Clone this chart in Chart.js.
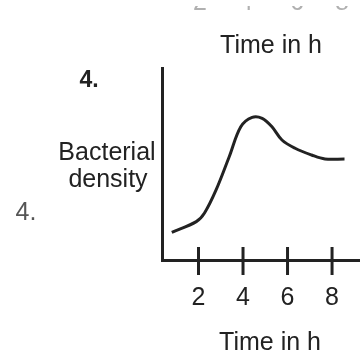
<!DOCTYPE html>
<html>
<head>
<meta charset="utf-8">
<script src="https://cdn.jsdelivr.net/npm/chart.js@4/dist/chart.umd.min.js"></script>
<style>
  html, body { margin: 0; padding: 0; background: #fff; }
</style>
</head>
<body>
<canvas id="growthChart" width="362" height="356"></canvas>
<script>
// growth curve, time (h) vs bacterial density (arbitrary units)
const hours = [0.8, 1.9, 2.27, 2.79, 3.38, 3.9, 4.41, 4.86, 5.3, 5.75, 6.34, 7.08, 7.68, 8.56];
const density = [1.44, 2.0, 2.45, 3.65, 5.38, 6.94, 7.43, 7.38, 6.94, 6.25, 5.82, 5.47, 5.26, 5.26];
const xTicks = [2, 4, 6, 8];
const xTitle = 'Time in h';
const yTitle = ['Bacterial', 'density'];
const itemNo = '4.';

const ink = '#222';
const family = '"Liberation Sans", Arial, sans-serif';

// labels, tick crosses and the leftover strip at the very top
const decorations = {
    id: 'decorations',
    afterDraw(chart) {
        const ctx = chart.ctx;
        const x = chart.scales.x;
        const axisY = chart.chartArea.bottom;
        ctx.save();

        // tick marks cross the axis
        ctx.strokeStyle = ink;
        ctx.lineWidth = 3;
        xTicks.forEach(v => {
            const px = x.getPixelForValue(v);
            ctx.beginPath();
            ctx.moveTo(px, axisY - 13);
            ctx.lineTo(px, axisY + 15);
            ctx.stroke();
        });

        ctx.fillStyle = ink;
        ctx.textAlign = 'center';
        ctx.textBaseline = 'alphabetic';
        ctx.font = '25px ' + family;
        ctx.fillText(xTitle, 271, 53);
        ctx.fillText(xTitle, 270, 350);
        ctx.fillText(yTitle[0], 107, 160);
        ctx.fillText(yTitle[1], 108, 187);

        ctx.font = 'bold 23px ' + family;
        ctx.fillText(itemNo, 89, 87);
        ctx.fillStyle = '#555';
        ctx.font = '25px ' + family;
        ctx.fillText(itemNo, 26, 220);

        // bottoms of the previous row of numbers
        ctx.beginPath();
        ctx.rect(0, 6, 362, 4);
        ctx.clip();
        ctx.fillStyle = '#b0b0b0';
        const offsets = [200, 246, 297, 342];
        xTicks.forEach((v, i) => ctx.fillText(String(v), offsets[i], 9.5));

        ctx.restore();
    }
};

new Chart(document.getElementById('growthChart'), {
    type: 'line',
    data: {
        datasets: [{
            data: hours.map((h, i) => ({ x: h, y: density[i] })),
            borderColor: ink,
            borderWidth: 3,
            pointRadius: 0,
            tension: 0.35,
            fill: false
        }]
    },
    options: {
        responsive: false,
        animation: false,
        layout: { padding: { left: 162, top: 68, right: 0, bottom: 20 } },
        plugins: {
            legend: { display: false },
            tooltip: { enabled: false }
        },
        scales: {
            x: {
                type: 'linear',
                min: 0.36,
                max: 9.24,
                afterBuildTicks: axis => { axis.ticks = xTicks.map(v => ({ value: v })); },
                grid: { display: false, drawTicks: false },
                border: { display: true, width: 3, color: ink },
                ticks: {
                    color: ink,
                    font: { family: family, size: 25 },
                    padding: 23,
                    maxRotation: 0
                }
            },
            y: {
                min: 0,
                max: 10,
                grid: { display: false, drawTicks: false },
                ticks: { display: false },
                border: { display: true, width: 3, color: ink }
            }
        }
    },
    plugins: [decorations]
});
</script>
</body>
</html>
